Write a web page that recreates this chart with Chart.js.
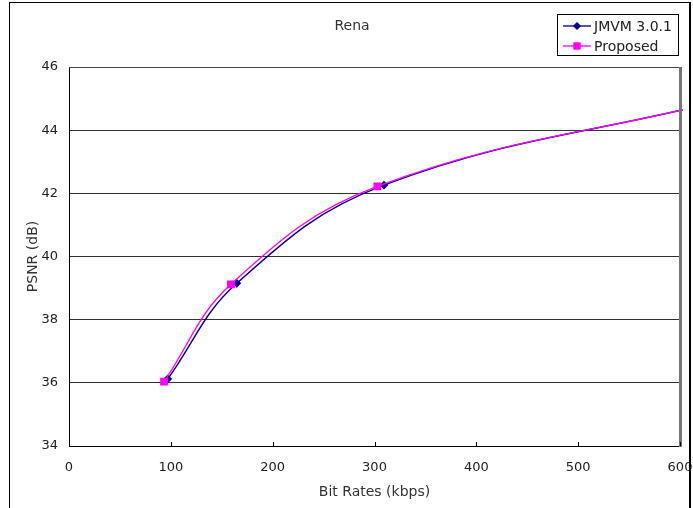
<!DOCTYPE html>
<html>
<head>
<meta charset="utf-8">
<script src="https://cdn.jsdelivr.net/npm/chart.js@4/dist/chart.umd.min.js"></script>
<style>
  html, body { margin: 0; padding: 0; background: #fff; overflow: hidden; }
  #wrap { width: 693px; height: 508px; }
  canvas { display: block; }
</style>
</head>
<body>
<div id="wrap"><canvas id="c" width="693" height="508"></canvas></div>
<script>
// Rate-distortion curves for the "Rena" sequence
const chartTitle = 'Rena';
const xTitle = 'Bit Rates (kbps)';
const yTitle = 'PSNR (dB)';
const seriesNames = ['JMVM 3.0.1', 'Proposed'];

// bit rate (kbps) / PSNR (dB); last pair lies past the axis end
const jmvmRate = [96.9, 164.7, 309.3, 640];
const jmvmPsnr = [36.12, 39.15, 42.26, 44.93];
const propRate = [93.3, 159.0, 302.8, 640];
const propPsnr = [36.04, 39.12, 42.22, 44.93];

const xTicks = [0, 100, 200, 300, 400, 500, 600];
const yTicks = [34, 36, 38, 40, 42, 44, 46];

const FONT = '"DejaVu Sans", Verdana, sans-serif';
const colJ = '#000080';
const colP = '#FF00FF';

const toPoints = (xs, ys) => xs.map((x, i) => ({ x, y: ys[i] }));

const frame = {
  id: 'frame',
  beforeDraw(chart) {
    const ctx = chart.ctx;
    ctx.save();
    ctx.fillStyle = '#fff';
    ctx.fillRect(0, 0, chart.width, chart.height);
    ctx.restore();
  },
  afterDraw(chart) {
    const ctx = chart.ctx;
    const a = chart.chartArea;
    const xs = chart.scales.x;
    const L = Math.round(a.left), R = Math.round(a.right);
    const T = Math.round(a.top), B = Math.round(a.bottom);
    ctx.save();
    // outer border (open at the bottom edge)
    ctx.fillStyle = '#000';
    ctx.fillRect(9, 2, 682, 1);
    ctx.fillRect(9, 2, 1, chart.height - 2);
    ctx.fillRect(689, 2, 2, chart.height - 2);
    // plot area top and right edges
    ctx.fillStyle = '#444';
    ctx.fillRect(L, T, R - L, 1);
    ctx.fillStyle = '#777';
    ctx.fillRect(R - 1, T, 3, B - T + 1);
    // inner tick marks on the x axis
    ctx.fillStyle = '#000';
    xTicks.forEach(v => {
      const px = Math.round(xs.getPixelForValue(v));
      ctx.fillRect(px, B - 4, 1, 4);
    });

    // titles
    ctx.fillStyle = '#333';
    ctx.font = '14px ' + FONT;
    ctx.textAlign = 'center';
    ctx.textBaseline = 'middle';
    ctx.fillText(chartTitle, 352, 26);
    ctx.fillText(xTitle, (a.left + a.right) / 2, 492);
    ctx.save();
    ctx.translate(33, (a.top + a.bottom) / 2);
    ctx.rotate(-Math.PI / 2);
    ctx.fillText(yTitle, 0, 0);
    ctx.restore();

    // legend
    const lx = 557.5, ly = 14.5, lw = 121, lh = 41;
    ctx.fillStyle = '#fff';
    ctx.fillRect(lx, ly, lw, lh);
    ctx.strokeStyle = '#000';
    ctx.lineWidth = 1;
    ctx.strokeRect(lx, ly, lw, lh);
    const rows = [26, 46];
    chart.data.datasets.forEach((ds, i) => {
      const y = rows[i];
      ctx.strokeStyle = ds.borderColor;
      ctx.lineWidth = 1.3;
      ctx.beginPath();
      ctx.moveTo(563, y);
      ctx.lineTo(591, y);
      ctx.stroke();
      ctx.fillStyle = ds.pointBackgroundColor;
      ctx.strokeStyle = ds.pointBorderColor;
      ctx.lineWidth = 1;
      Chart.helpers.drawPoint(ctx, {
        pointStyle: ds.pointStyle, radius: ds.pointRadius, borderWidth: 1
      }, 577, y);
      ctx.fillStyle = '#222';
      ctx.font = '14px ' + FONT;
      ctx.textAlign = 'left';
      ctx.textBaseline = 'middle';
      ctx.fillText(ds.label, 594, y + 1);
    });
    ctx.restore();
  }
};

new Chart(document.getElementById('c'), {
  type: 'line',
  data: {
    datasets: [
      {
        label: seriesNames[0],
        data: toPoints(jmvmRate, jmvmPsnr),
        borderColor: colJ, backgroundColor: colJ,
        pointBackgroundColor: colJ, pointBorderColor: colJ,
        borderWidth: 1.4, pointStyle: 'rectRot', pointRadius: 3.5,
        tension: 0.4, order: 1,
        clip: { left: 5, top: 5, right: 3, bottom: 5 }
      },
      {
        label: seriesNames[1],
        data: toPoints(propRate, propPsnr),
        borderColor: colP, backgroundColor: colP,
        pointBackgroundColor: colP, pointBorderColor: colP,
        borderWidth: 1.4, pointStyle: 'rect', pointRadius: 4.5,
        tension: 0.4, order: 0,
        clip: { left: 5, top: 5, right: 3, bottom: 5 }
      }
    ]
  },
  options: {
    responsive: false,
    animation: false,
    events: [],
    layout: { padding: { left: 0, top: 67, right: 13, bottom: 0 } },
    plugins: { legend: { display: false }, title: { display: false }, tooltip: { enabled: false } },
    scales: {
      x: {
        type: 'linear', min: 0, max: 600,
        afterFit: s => { s.height = 62; s.paddingLeft = 0; s.paddingRight = 0; },
        afterBuildTicks: s => { s.ticks = xTicks.map(v => ({ value: v })); },
        ticks: { font: { family: FONT, size: 13 }, color: '#222', padding: 14, maxRotation: 0 },
        grid: { drawOnChartArea: false, drawTicks: false },
        border: { color: '#000', width: 1 }
      },
      y: {
        type: 'linear', min: 34, max: 46,
        afterFit: s => { s.width = 69; s.paddingTop = 0; s.paddingBottom = 0; },
        afterBuildTicks: s => { s.ticks = yTicks.map(v => ({ value: v })); },
        ticks: { font: { family: FONT, size: 13 }, color: '#222', padding: 11 },
        grid: { color: '#333', lineWidth: 1, drawTicks: false },
        border: { color: '#000', width: 1 }
      }
    }
  },
  plugins: [frame]
});
</script>
</body>
</html>
